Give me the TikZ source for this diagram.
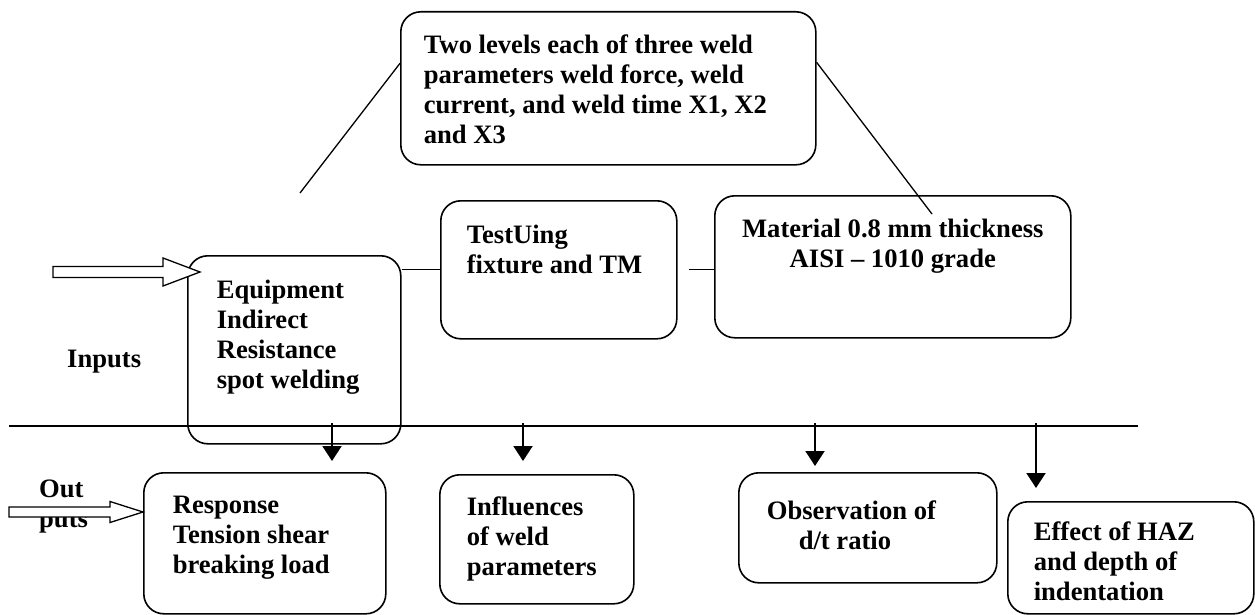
\documentclass[tikz,border=0pt]{standalone}
\usepackage{fontspec}
\setmainfont{Liberation Serif}
\usetikzlibrary{calc,arrows.meta}
\newcommand{\stagetext}[5]{%
  \parbox[c][#2][t]{#1}{\raggedright\leftskip=#3\relax
    \vspace*{\dimexpr#4-21pt\relax}\strut#5}}

\begin{document}
\begin{tikzpicture}[x=1pt,y=-1pt,
  font=\bfseries\fontsize{26.6}{30}\selectfont,
  stagebox/.style={draw, line width=1.6pt, rounded corners=20pt, inner sep=0pt, anchor=north west},
  link/.style={line width=1.3pt},
  flow/.style={line width=2pt, -{Triangle[length=15pt,width=19pt]}},
  hollow/.style={line width=1.3pt, fill=white, line join=miter}]
\useasboundingbox (0,0) rectangle (1255,615);

\node[stagebox] (params) at (400,11) {\stagetext{415pt}{153pt}{23pt}{42pt}{Two levels each of three weld\\ parameters weld force, weld\\ current, and weld time X1, X2\\ and X3}};
\node[stagebox] (equip) at (187,255) {\stagetext{213pt}{188pt}{29pt}{43pt}{Equipment\\ Indirect\\ Resistance\\ spot welding}};
\node[stagebox] (test) at (440,200) {\stagetext{236pt}{138pt}{26pt}{43pt}{TestUing\\ fixture and TM}};
\node[stagebox] (material) at (714,195) {\stagetext{356pt}{142pt}{0pt}{42pt}{\centering Material 0.8 mm thickness\\ AISI -- 1010 grade}};
\node[stagebox] (response) at (143,472) {\stagetext{242pt}{141pt}{29pt}{41pt}{Response\\ Tension shear\\ breaking load}};
\node[stagebox] (influence) at (439,474) {\stagetext{194pt}{129pt}{27pt}{41pt}{Influences\\ of weld\\ parameters}};
\node[stagebox] (observe) at (738,472) {\stagetext{258pt}{110pt}{28pt}{47pt}{Observation of\\ \hspace*{32pt}d/t ratio}};
\node[stagebox] (effect) at (1007,501) {\stagetext{246pt}{112pt}{26pt}{39pt}{Effect of HAZ\\ and depth of\\ indentation}};

\node[anchor=base west, inner sep=0pt] (inputs) at (67,367) {Inputs};
\node[anchor=base west, inner sep=0pt] (out-a) at (39,497) {Out};
\node[anchor=base west, inner sep=0pt] (out-b) at (39,527) {puts};

\coordinate (left-foot) at (300,193);
\coordinate (right-foot) at (932,214);
\draw[link] (left-foot) -- ([yshift=25pt]params.west);
\draw[link] ([yshift=26pt]params.east) -- (right-foot);
\draw[link] (equip.east |- test.west) -- (test.west);
\draw[link] ([xshift=11pt]test.east) -- (test.east -| material.west);

\coordinate (rule-w) at (9,426);
\coordinate (rule-e) at (1138,426);
\draw[link] (rule-w) -- (rule-e);
\foreach \nm/\xa/\gap in {response/332/11pt, influence/523/13pt, observe/815/6pt, effect/1036/13pt}{
  \coordinate (drop-\nm) at (\xa,423);
  \draw[flow, shorten >=\gap] (drop-\nm) -- (drop-\nm |- \nm.north);
}

\coordinate (in-tip) at (200,272);
\draw[hollow] (in-tip) -- ++(-37,-14) -- ++(0,8.5) -- ++(-110,0) -- ++(0,11) -- ++(110,0) -- ++(0,8.5) -- cycle;
\coordinate (out-tip) at (143,512);
\draw[hollow] (out-tip) -- ++(-33,-10.5) -- ++(0,5.5) -- ++(-101,0) -- ++(0,10) -- ++(101,0) -- ++(0,5.5) -- cycle;
\end{tikzpicture}
\end{document}
